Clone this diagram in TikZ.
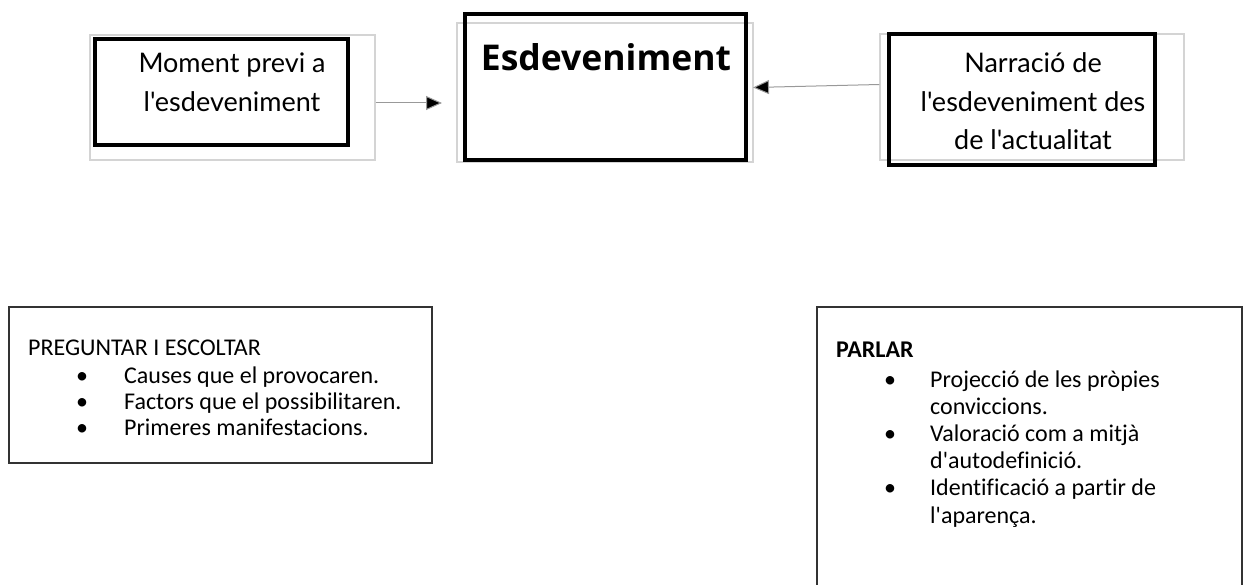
\documentclass[tikz,border=0pt]{standalone}
\usepackage{fontspec}
\setmainfont{Carlito}[Ligatures={TeXOff,NoCommon}]
\newfontfamily\latofont{Lato}[Ligatures={TeXOff,NoCommon}]
\newfontfamily\osfont{Open Sans}[Ligatures=TeXOff]
\usetikzlibrary{arrows.meta}
\tikzset{
  ghost/.style={draw=black!17, line width=1.2pt, inner sep=0pt},
  heavy/.style={draw=black, line width=4pt, inner sep=0pt},
  listbox/.style={draw=black!80, line width=1.3pt, inner sep=0pt},
  topfont/.style={font=\latofont\fontsize{27}{38.5}\selectfont, inner sep=0pt, anchor=base},
  listfont/.style={font=\fontsize{24}{26}\selectfont, inner sep=0pt, anchor=base west},
  link/.style={draw=black!40, line width=1pt, -{Triangle[length=16pt,width=14pt,fill=black]}, shorten >=0pt}
}
\begin{document}
\begin{tikzpicture}[x=1pt,y=-1pt]
\useasboundingbox[fill=white] (0,0) rectangle (1247,585);
% top row
\node[ghost, minimum width=285pt, minimum height=125pt] (g1) at (232.5,97.5) {};
\node[heavy, minimum width=253pt, minimum height=106pt] (b1) at (221.5,92) {};
\node[topfont] (l1) at (232,73) {\begin{tabular}[t]{@{}c@{}}Moment previ a\\l'esdeveniment\end{tabular}};

\node[ghost, minimum width=296pt, minimum height=139pt] (g2) at (605,92.5) {};
\node[heavy, minimum width=281pt, minimum height=146pt] (b2) at (605.5,87) {};
\node[font=\osfont\bfseries\fontsize{35.5}{40}\selectfont, inner sep=0pt, anchor=base] (l2) at (606,71) {Esdeveniment};

\node[ghost, minimum width=304pt, minimum height=126pt] (g3) at (1032,97) {};
\node[heavy, minimum width=266pt, minimum height=131pt] (b3) at (1022,99.5) {};
\node[topfont] (l3) at (1033,73) {\begin{tabular}[t]{@{}c@{}}Narració de\\l'esdeveniment des\\de l'actualitat\end{tabular}};

\coordinate (t1) at (442,103);
\coordinate (t2) at (753,87.5);
\draw[link] (g1.east |- t1) -- (t1);
\draw[link] (g3.west |- 0,84.5) -- (t2);

% bottom row
\node[listbox, minimum width=423pt, minimum height=156pt] (q) at (220.5,385) {};
\node[listfont] (ql) at (28,355) {\begin{tabular}[t]{@{}p{48pt}@{}p{48pt}@{}l@{}}
\multicolumn{3}{@{}l@{}}{PREGUNTAR I ESCOLTAR}\\[2pt]
 & \textbullet & Causes que el provocaren.\\
 & \textbullet & Factors que el possibilitaren.\\
 & \textbullet & Primeres manifestacions.
\end{tabular}};

\node[listbox, minimum width=425pt, minimum height=300pt] (p) at (1029.5,457) {};
\node[listfont, font=\fontsize{24}{27.2}\selectfont] (pl) at (836,357) {\begin{tabular}[t]{@{}p{48pt}@{}p{46pt}@{}l@{}}
\multicolumn{3}{@{}l@{}}{\bfseries PARLAR}\\[2.8pt]
 & \textbullet & Projecció de les pròpies\\
 & & conviccions.\\
 & \textbullet & Valoració com a mitjà\\
 & & d'autodefinició.\\
 & \textbullet & Identificació a partir de\\
 & & l'aparença.
\end{tabular}};
\end{tikzpicture}
\end{document}
